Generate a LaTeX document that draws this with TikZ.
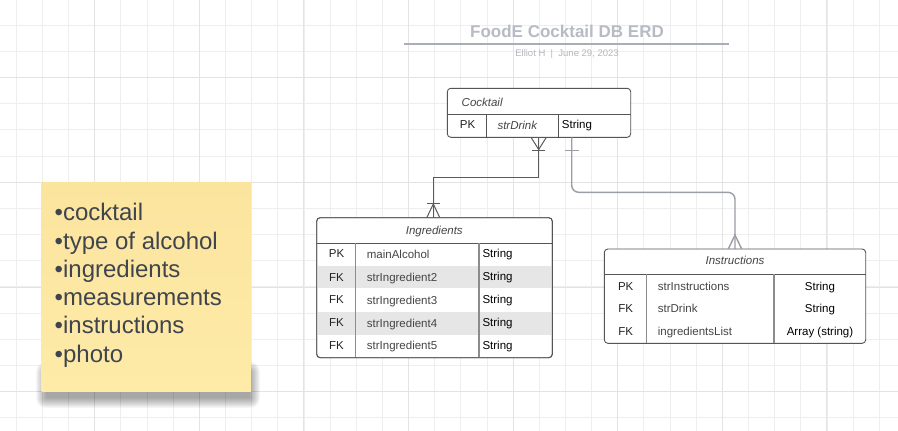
\documentclass[tikz,border=0pt]{standalone}
\usepackage{fontspec}
\setmainfont{Liberation Sans}
\definecolor{gridmin}{HTML}{EEEEEE}
\definecolor{gridmaj}{HTML}{E3E3E3}
\definecolor{titlegray}{HTML}{B7BBC3}
\definecolor{subgray}{HTML}{B3B7BD}
\definecolor{rulegray}{HTML}{A9AEB6}
\definecolor{boxline}{HTML}{555555}
\definecolor{divgray}{HTML}{8C8C8C}
\definecolor{rowshade}{HTML}{E6E6E6}
\definecolor{conna}{HTML}{5A5A5A}
\definecolor{connb}{HTML}{9A9EA5}
\definecolor{notetop}{HTML}{FBE49E}
\definecolor{notebot}{HTML}{FEEBA8}
\definecolor{notetext}{HTML}{40454D}
\definecolor{keytext}{HTML}{222222}
\definecolor{nametext}{HTML}{444444}
\tikzset{
  gridminline/.style={draw=gridmin, line width=0.9pt},
  gridmajline/.style={draw=gridmaj, line width=1pt},
  tablebox/.style={draw=boxline, line width=0.9pt, fill=white, rounded corners=3.5pt, inner sep=0pt, outer sep=0pt},
  hline/.style={draw=boxline, line width=0.9pt},
  divline/.style={draw=divgray, line width=1.3pt},
  darkdiv/.style={draw=boxline, line width=0.9pt},
  cell/.style={font=\fontsize{11.5}{13}\selectfont, inner sep=0pt, anchor=base},
  keycell/.style={cell, text=keytext},
  namecell/.style={cell, text=nametext, anchor=base west},
  typecell/.style={cell, text=black, anchor=base west},
  headcell/.style={cell, font=\fontsize{11.5}{13}\selectfont\itshape, text=nametext},
  conA/.style={draw=conna, line width=1pt},
  conB/.style={draw=connb, line width=1.4pt},
  noteline/.style={font=\fontsize{24}{28}\selectfont, text=notetext, inner sep=0pt, anchor=base west},
}
\begin{document}
\begin{tikzpicture}[x=1pt,y=-1pt]
\useasboundingbox (0,0) rectangle (898,431);
\fill[white] (0,0) rectangle (898,431);
% grid
\foreach \k in {0,...,33} \draw[gridminline] ({16.3+26.15*\k},0) -- ({16.3+26.15*\k},431);
\foreach \k in {0,...,15} \draw[gridminline] (0,{25.3+26.15*\k}) -- (898,{25.3+26.15*\k});
\foreach \k in {3,7,...,31} \draw[gridmajline] ({16.3+26.15*\k},0) -- ({16.3+26.15*\k},431);
\foreach \k in {2,6,10,14} \draw[gridmajline] (0,{25.6+26.15*\k}) -- (898,{25.6+26.15*\k});

% title
\node[font=\fontsize{17}{20}\selectfont\bfseries, text=titlegray, anchor=base, inner sep=0pt] (title) at (567,37.8) {FoodE Cocktail DB ERD};
\draw[draw=rulegray, line width=1.3pt] (404,44) -- (729,44);
\node[font=\fontsize{9.5}{11}\selectfont, text=subgray, anchor=base, inner sep=0pt] (subtitle) at (567,56.6) {Elliot H\ \ |\ \ June 29, 2023};

% sticky note shadow
\foreach \r in {0,...,10}
  \fill[black, opacity=0.035, rounded corners=\r pt] ({46-\r},{372-\r}) rectangle ({250+\r},{398+\r});
% sticky note
\shade[top color=notetop, bottom color=notebot] (41.7,182.7) rectangle (251,391.7);
\node[noteline] (n1) at (54.5,220.7) {•cocktail};
\node[noteline] (n2) at (54.5,249.0) {•type of alcohol};
\node[noteline] (n3) at (54.5,277.3) {•ingredients};
\node[noteline] (n4) at (54.5,305.6) {•measurements};
\node[noteline] (n5) at (54.5,333.9) {•instructions};
\node[noteline] (n6) at (54.5,362.2) {•photo};

% Cocktail table
\node[tablebox, minimum width=183.4pt, minimum height=49pt] (cocktail) at (539,112.8) {};
\draw[hline] (447.3,114) -- (630.7,114);
\draw[darkdiv] (486,114) -- (486,137.3);
\draw[darkdiv] (558.7,114) -- (558.7,137.3);
\node[headcell, anchor=base west] (ckh) at (461.5,106.4) {Cocktail};
\node[keycell] (ck1) at (467.5,128.8) {PK};
\node[headcell, anchor=base west] (ck2) at (497.3,129.2) {strDrink};
\node[typecell] (ck3) at (561.7,128.6) {String};

% Ingredients table
\node[tablebox, minimum width=235.6pt, minimum height=140pt] (ingr) at (434.5,287.7) {};
\fill[rowshade] (317.2,266) rectangle (551.8,288.3);
\fill[rowshade] (317.2,311.7) rectangle (551.8,335);
\draw[hline] (316.7,243.3) -- (552.3,243.3);
\draw[divline] (355.7,243.3) -- (355.7,357.2);
\draw[divline] (479,243.3) -- (479,357.2);
\node[headcell] (igh) at (434.3,234.8) {Ingredients};
\node[keycell] (ig1k) at (336.5,257.8) {PK};
\node[namecell] (ig1n) at (366.7,258.4) {mainAlcohol};
\node[typecell] (ig1t) at (482.3,257.4) {String};
\node[keycell] (ig2k) at (336.5,281.1) {FK};
\node[namecell] (ig2n) at (366.7,281.6) {strIngredient2};
\node[typecell] (ig2t) at (482.3,280.7) {String};
\node[keycell] (ig3k) at (336.5,303.6) {FK};
\node[namecell] (ig3n) at (366.7,304.2) {strIngredient3};
\node[typecell] (ig3t) at (482.3,303.3) {String};
\node[keycell] (ig4k) at (336.5,326.9) {FK};
\node[namecell] (ig4n) at (366.7,327.5) {strIngredient4};
\node[typecell] (ig4t) at (482.3,326.6) {String};
\node[keycell] (ig5k) at (336.5,349.3) {FK};
\node[namecell] (ig5n) at (366.7,349.9) {strIngredient5};
\node[typecell] (ig5t) at (482.3,349.0) {String};
\draw[draw=boxline, line width=0.9pt, rounded corners=3.5pt] (316.7,217.7) rectangle (552.3,357.7);

% Instructions table
\node[tablebox, minimum width=261.4pt, minimum height=94.3pt] (instr) at (735,296.15) {};
\draw[hline] (604.3,274) -- (865.7,274);
\draw[divline] (646.7,274) -- (646.7,342.8);
\draw[divline] (774,274) -- (774,342.8);
\node[headcell] (inh) at (735,264.8) {Instructions};
\node[keycell] (in1k) at (625.7,290.2) {PK};
\node[namecell] (in1n) at (657.7,290.2) {strInstructions};
\node[keycell, text=black] (in1t) at (820,290.2) {String};
\node[keycell] (in2k) at (625.7,312.5) {FK};
\node[namecell] (in2n) at (657.7,312.5) {strDrink};
\node[keycell, text=black] (in2t) at (820,312.5) {String};
\node[keycell] (in3k) at (625.7,335.8) {FK};
\node[namecell] (in3n) at (657.7,335.8) {ingredientsList};
\node[keycell, text=black] (in3t) at (820,335.8) {Array (string)};

% attachment points
\coordinate (cA) at (538.7,137.3);
\coordinate (iA) at (433.3,217.7);
\coordinate (cB) at (571.7,137.3);
\coordinate (iB) at (735,249);

% Cocktail -- Ingredients
\draw[conA] (cA) -- ++(0,40) -| (iA);
\draw[conA] (cA) ++(-7.7,0) -- ++(7.7,12.2) -- ++(7.7,-12.2);
\draw[conA] (cA) ++(-6.3,13) -- ++(12.6,0);
\draw[conA] (iA) ++(-6.5,0) -- ++(6.5,-13.7) -- ++(6.5,13.7);
\draw[conA] (iA) ++(-6.5,-14.4) -- ++(13,0);

% Cocktail -- Instructions
\draw[conB, rounded corners=7pt] (cB) -- ++(0,55) -| (iB);
\draw[conB] (cB) ++(-7,13) -- ++(14,0);
\draw[conB] (iB) ++(-6.7,0) -- ++(6.7,-14) -- ++(6.7,14);
\end{tikzpicture}
\end{document}
